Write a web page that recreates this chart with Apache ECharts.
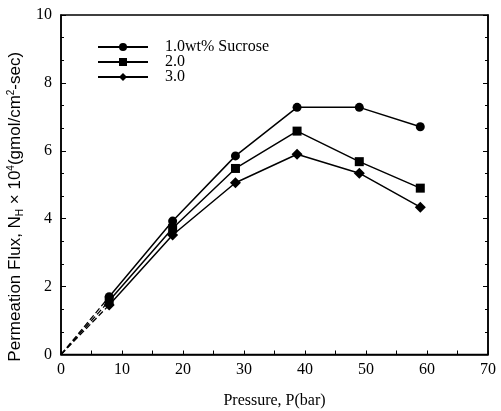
<!DOCTYPE html>
<html>
<head>
<meta charset="utf-8">
<script src="https://cdn.jsdelivr.net/npm/echarts@6/dist/echarts.min.js"></script>
<style>
html, body { margin: 0; padding: 0; background: #fff; }
#chart { width: 501px; height: 411px; }
</style>
</head>
<body>
<div id="chart"></div>
<script>
// 数据
var pressure = [7.9, 18.3, 28.6, 38.7, 48.9, 58.9];
var flux10 = [1.70, 3.93, 5.85, 7.28, 7.28, 6.71];
var flux20 = [1.58, 3.72, 5.48, 6.58, 5.68, 4.90];
var flux30 = [1.46, 3.52, 5.06, 5.90, 5.34, 4.34];
var legendNames = ['1.0wt% Sucrose', '2.0', '3.0'];
var xTicks = [0, 10, 20, 30, 40, 50, 60, 70];
var yTicks = [0, 2, 4, 6, 8, 10];

var serif = 'Liberation Serif';
var sans = 'Liberation Sans';

function pairs(xs, ys) {
	var out = [];
	for (var i = 0; i < xs.length; i++) {
		out.push([xs[i], ys[i]]);
	}
	return out;
}

function solid(name, ys, symbol, size) {
	return {
		name : name,
		type : 'line',
		data : pairs(pressure, ys),
		symbol : symbol,
		symbolSize : size,
		color : '#000',
		lineStyle : { color : '#000', width : 1.5 },
		itemStyle : { color : '#000' },
		z : 3
	};
}

// 原点到第一个点的虚线
function dashed(ys) {
	return {
		type : 'line',
		data : [ [ 0, 0 ], [ pressure[0], ys[0] ] ],
		symbol : 'none',
		lineStyle : { color : '#000', width : 1.3, type : [ 6, 3 ] },
		silent : true,
		z : 2
	};
}

var chart = echarts.init(document.getElementById('chart'));
var option = {
	animation : false,
	backgroundColor : '#fff',
	grid : {
		left : 61,
		right : 13,
		top : 15,
		bottom : 56.5,
		outerBoundsMode : 'none',
		containLabel : false,
		show : true,
		borderColor : '#000',
		borderWidth : 1.5
	},
	legend : {
		data : legendNames,
		orient : 'vertical',
		left : 92,
		top : 34,
		itemWidth : 50,
		itemHeight : 10,
		itemGap : -1,
		textStyle : {
			fontFamily : serif,
			fontSize : 16,
			color : '#000',
			lineHeight : 13,
			padding : [ 0, 0, 0, 12 ]
		}
	},
	xAxis : {
		type : 'value',
		min : xTicks[0],
		max : xTicks[xTicks.length - 1],
		interval : 10,
		name : 'Pressure, P(bar)',
		nameLocation : 'middle',
		nameGap : 38,
		nameTextStyle : { fontFamily : serif, fontSize : 16, color : '#000' },
		axisLine : { lineStyle : { color : '#000', width : 1.5 } },
		axisTick : { inside : true, length : 4, lineStyle : { color : '#000' } },
		minorTick : { show : true, splitNumber : 2, length : 4, lineStyle : { color : '#000' } },
		axisLabel : { fontFamily : serif, fontSize : 16, color : '#000', margin : 7 },
		splitLine : { show : false }
	},
	yAxis : [ {
		type : 'value',
		min : yTicks[0],
		max : yTicks[yTicks.length - 1],
		interval : 2,
		name : '{a|Permeation Flux, N}{s|H}{a| × 10}{p|4}{a|(gmol/cm}{p|2}{a|-sec)}',
		nameLocation : 'middle',
		nameGap : 34,
		nameTextStyle : {
			padding : [ 0, 44, 0, 0 ],
			rich : {
				a : { fontFamily : sans, fontSize : 17, color : '#000', lineHeight : 20, verticalAlign : 'middle' },
				s : { fontFamily : sans, fontSize : 10, color : '#000', padding : [ 9, 0, 0, 0 ] },
				p : { fontFamily : sans, fontSize : 10, color : '#000', padding : [ 0, 0, 8, 0 ] }
			}
		},
		axisLine : { lineStyle : { color : '#000', width : 1.5 } },
		axisTick : { inside : true, length : 5, lineStyle : { color : '#000' } },
		minorTick : { show : true, splitNumber : 3, length : 3, lineStyle : { color : '#000' } },
		axisLabel : { fontFamily : serif, fontSize : 16, color : '#000', margin : 9 },
		splitLine : { show : false }
	}, {
		// 右侧刻度
		type : 'value',
		position : 'right',
		min : yTicks[0],
		max : yTicks[yTicks.length - 1],
		interval : 2,
		axisLine : { show : true, lineStyle : { color : '#000', width : 1.5 } },
		axisTick : { inside : true, length : 5, lineStyle : { color : '#000' } },
		minorTick : { show : true, splitNumber : 3, length : 3, lineStyle : { color : '#000' } },
		axisLabel : { show : false },
		splitLine : { show : false }
	} ],
	series : [
		solid(legendNames[0], flux10, 'circle', 9),
		solid(legendNames[1], flux20, 'rect', 9),
		solid(legendNames[2], flux30, 'diamond', 11),
		dashed(flux10),
		dashed(flux20),
		dashed(flux30)
	]
};
chart.setOption(option);
</script>
</body>
</html>
